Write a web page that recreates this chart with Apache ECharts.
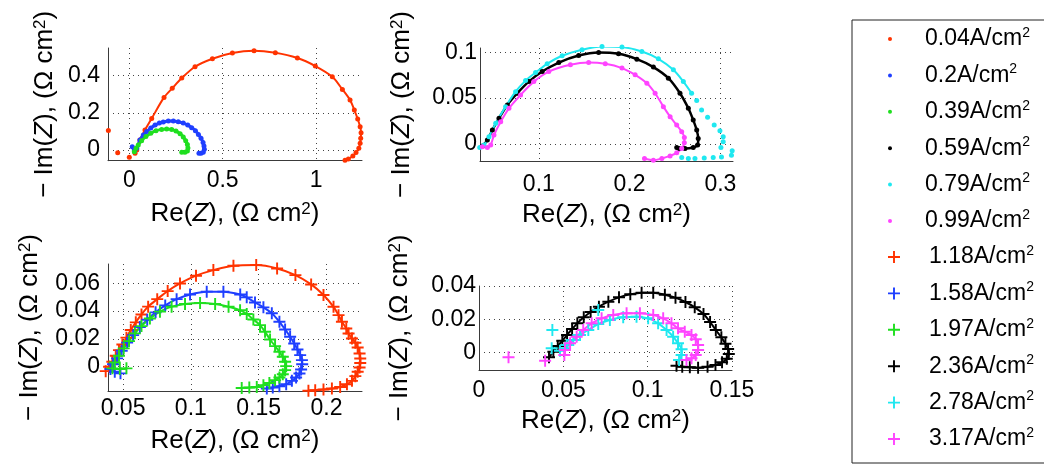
<!DOCTYPE html>
<html><head><meta charset="utf-8">
<script src="https://cdn.jsdelivr.net/npm/echarts@6/dist/echarts.min.js"></script>
<style>html,body{margin:0;padding:0;background:#fff}#c{width:1044px;height:464px}</style>
</head><body><div id="c"></div>
<script>
// ---- labels ----
const currentLabels = ['0.04A/cm²','0.2A/cm²','0.39A/cm²','0.59A/cm²','0.79A/cm²','0.99A/cm²',
  '1.18A/cm²','1.58A/cm²','1.97A/cm²','2.36A/cm²','2.78A/cm²','3.17A/cm²'];
const seriesColors = ['#ff3300','#1f3fff','#1fdf1f','#000000','#1fe8f0','#ff44ff',
  '#ff3300','#1f3fff','#1fdf1f','#000000','#1fe8f0','#ff44ff'];
const subplotOf = [0,0,0,1,1,1,2,2,2,3,3,3];

// ---- axis ranges and tick steps ----
const xRanges = [[-0.114, 1.246],[0.0352, 0.3139],[0.0389, 0.2262],[0, 0.15]];
const yRanges = [[-0.0576, 0.549],[-0.0188, 0.1049],[-0.0175, 0.0739],[-0.0104, 0.04]];
const xSteps = [0.5, 0.1, 0.05, 0.05];
const ySteps = [0.2, 0.05, 0.02, 0.02];

// ---- data: [Re(Z), -Im(Z)] ----
const s004 = [[0.040,0.000],[0.057,0.054],[0.084,0.108],[0.120,0.170],[0.186,0.283],[0.230,0.332],[0.281,0.387],[0.352,0.448],[0.445,0.491],[0.552,0.522],[0.668,0.534],[0.782,0.523],[0.900,0.495],[0.996,0.452],[1.087,0.394],[1.141,0.326],[1.182,0.269],[1.205,0.215],[1.223,0.167],[1.236,0.125],[1.241,0.093],[1.239,0.063],[1.236,0.036],[1.229,0.009],[1.214,-0.014],[1.197,-0.032],[1.173,-0.048],[1.155,-0.055]];
const s004Extra = [[-0.112,0.105],[-0.062,-0.015],[0.000,-0.039],[0.031,-0.018]];
const s02 = [[0.016,0.018],[0.027,-0.004],[0.040,0.009],[0.057,0.054],[0.075,0.081],[0.093,0.099],[0.115,0.118],[0.138,0.134],[0.161,0.145],[0.182,0.151],[0.209,0.156],[0.236,0.156],[0.262,0.152],[0.289,0.145],[0.313,0.134],[0.334,0.120],[0.354,0.104],[0.370,0.084],[0.384,0.063],[0.395,0.041],[0.400,0.022],[0.402,0.004],[0.396,-0.012],[0.384,-0.018],[0.373,-0.018]];
const s039 = [[0.027,-0.009],[0.036,0.009],[0.048,0.027],[0.066,0.050],[0.089,0.072],[0.115,0.090],[0.143,0.104],[0.173,0.111],[0.200,0.113],[0.227,0.111],[0.250,0.102],[0.272,0.088],[0.289,0.070],[0.302,0.050],[0.311,0.029],[0.314,0.011],[0.311,-0.005],[0.298,-0.012],[0.281,-0.012]];
const s059 = [[0.0379,-0.0025],[0.0433,0.0041],[0.0488,0.0151],[0.0561,0.0279],[0.0653,0.0425],[0.0763,0.0554],[0.0890,0.0681],[0.1037,0.0791],[0.1220,0.0890],[0.1439,0.0967],[0.1659,0.1000],[0.1878,0.0986],[0.2080,0.0927],[0.2262,0.0840],[0.2427,0.0719],[0.2555,0.0554],[0.2647,0.0389],[0.2701,0.0260],[0.2739,0.0151],[0.2756,0.0059],[0.2749,-0.0014],[0.2701,-0.0040],[0.2610,-0.0051],[0.2544,-0.0051],[0.2519,-0.0040]];
const s079 = [[0.0349,-0.0040],[0.0396,-0.0014],[0.0451,0.0077],[0.0525,0.0224],[0.0634,0.0407],[0.0744,0.0571],[0.0854,0.0692],[0.0964,0.0780],[0.1092,0.0876],[0.1257,0.0964],[0.1476,0.1030],[0.1696,0.1066],[0.1916,0.1059],[0.2135,0.1011],[0.2317,0.0931],[0.2482,0.0810],[0.2592,0.0681],[0.2683,0.0554]];
const s079Tail = [[0.2739,0.0473],[0.2793,0.0370],[0.2859,0.0290],[0.2932,0.0205],[0.2995,0.0143],[0.3031,0.0077],[0.3031,0.0022],[0.3006,-0.0040],[0.3130,-0.0077],[0.3122,-0.0124],[0.3012,-0.0143],[0.2921,-0.0149],[0.2822,-0.0154],[0.2720,-0.0160],[0.2647,-0.0160],[0.2574,-0.0149]];
const s099 = [[0.0378,-0.0033],[0.0433,-0.0040],[0.0470,-0.0014],[0.0506,0.0096],[0.0580,0.0242],[0.0671,0.0389],[0.0799,0.0535],[0.0945,0.0681],[0.1110,0.0791],[0.1348,0.0865],[0.1549,0.0890],[0.1732,0.0876],[0.1916,0.0829],[0.2061,0.0755],[0.2190,0.0663],[0.2281,0.0554],[0.2372,0.0407],[0.2446,0.0297],[0.2519,0.0205],[0.2574,0.0132],[0.2603,0.0070],[0.2603,0.0011],[0.2574,-0.0051],[0.2519,-0.0099],[0.2446,-0.0132],[0.2355,-0.0160],[0.2262,-0.0179],[0.2164,-0.0160]];
const s118 = [[0.0372,-0.0032],[0.0397,0.0000],[0.0421,0.0036],[0.0446,0.0079],[0.0470,0.0119],[0.0495,0.0160],[0.0525,0.0209],[0.0557,0.0264],[0.0594,0.0319],[0.0636,0.0376],[0.0685,0.0432],[0.0752,0.0486],[0.0829,0.0544],[0.0920,0.0599],[0.1038,0.0655],[0.1166,0.0695],[0.1314,0.0727],[0.1482,0.0731],[0.1636,0.0707],[0.1771,0.0659],[0.1887,0.0592],[0.1978,0.0516],[0.2052,0.0431],[0.2089,0.0371],[0.2114,0.0323],[0.2146,0.0275],[0.2163,0.0239],[0.2188,0.0203],[0.2213,0.0172],[0.2230,0.0138],[0.2244,0.0095],[0.2249,0.0059],[0.2249,0.0027],[0.2244,-0.0006],[0.2230,-0.0037],[0.2213,-0.0068],[0.2188,-0.0102],[0.2151,-0.0126],[0.2101,-0.0146],[0.2040,-0.0157],[0.1978,-0.0164],[0.1917,-0.0169],[0.1867,-0.0173]];
const s158 = [[0.0481,-0.0048],[0.0439,-0.0036],[0.0407,-0.0017],[0.0426,0.0017],[0.0456,0.0060],[0.0490,0.0115],[0.0530,0.0173],[0.0574,0.0227],[0.0624,0.0285],[0.0678,0.0338],[0.0740,0.0391],[0.0811,0.0441],[0.0895,0.0486],[0.0994,0.0520],[0.1117,0.0540],[0.1240,0.0540],[0.1364,0.0520],[0.1412,0.0499],[0.1473,0.0462],[0.1535,0.0427],[0.1597,0.0384],[0.1653,0.0323],[0.1695,0.0268],[0.1732,0.0215],[0.1762,0.0167],[0.1786,0.0124],[0.1806,0.0083],[0.1819,0.0047],[0.1821,0.0018],[0.1813,-0.0020],[0.1801,-0.0049],[0.1776,-0.0078],[0.1745,-0.0102],[0.1703,-0.0126],[0.1653,-0.0141],[0.1604,-0.0150],[0.1560,-0.0157]];
const s197 = [[0.0525,-0.0012],[0.0476,-0.0017],[0.0422,-0.0012],[0.0439,0.0031],[0.0470,0.0079],[0.0505,0.0132],[0.0544,0.0184],[0.0587,0.0240],[0.0636,0.0292],[0.0698,0.0347],[0.0772,0.0396],[0.0858,0.0432],[0.0957,0.0451],[0.1068,0.0458],[0.1179,0.0451],[0.1278,0.0432],[0.1363,0.0407],[0.1412,0.0379],[0.1461,0.0340],[0.1510,0.0299],[0.1547,0.0251],[0.1584,0.0196],[0.1621,0.0148],[0.1653,0.0107],[0.1678,0.0071],[0.1695,0.0035],[0.1703,0.0004],[0.1695,-0.0025],[0.1678,-0.0054],[0.1653,-0.0078],[0.1621,-0.0097],[0.1579,-0.0117],[0.1535,-0.0133],[0.1486,-0.0146],[0.1431,-0.0150],[0.1375,-0.0153]];
const s236 = [[0.0415,-0.0028],[0.0441,0.0006],[0.0467,0.0040],[0.0494,0.0072],[0.0522,0.0106],[0.0552,0.0142],[0.0583,0.0176],[0.0621,0.0212],[0.0662,0.0244],[0.0711,0.0276],[0.0767,0.0306],[0.0830,0.0332],[0.0897,0.0350],[0.0964,0.0360],[0.1033,0.0360],[0.1102,0.0348],[0.1165,0.0330],[0.1224,0.0304],[0.1279,0.0272],[0.1331,0.0232],[0.1370,0.0184],[0.1404,0.0136],[0.1437,0.0092],[0.1461,0.0054],[0.1477,0.0022],[0.1481,-0.0008],[0.1469,-0.0036],[0.1441,-0.0058],[0.1402,-0.0074],[0.1355,-0.0084],[0.1299,-0.0090],[0.1250,-0.0088],[0.1205,-0.0084],[0.1171,-0.0078]];
const s278 = [[0.0510,0.0026],[0.0520,0.0046],[0.0559,0.0076],[0.0599,0.0106],[0.0648,0.0136],[0.0707,0.0172],[0.0776,0.0196],[0.0855,0.0212],[0.0934,0.0216],[0.1003,0.0206],[0.1062,0.0176],[0.1112,0.0136],[0.1151,0.0096],[0.1180,0.0056],[0.1201,0.0020],[0.1201,-0.0014],[0.1186,-0.0044]];
const s278Extra = [[0.0435,0.0136],[0.0431,0.0026],[0.0480,0.0012],[0.0707,0.0256]];
const s317 = [[0.0506,-0.0014],[0.0510,0.0016],[0.0540,0.0056],[0.0579,0.0096],[0.0618,0.0136],[0.0668,0.0176],[0.0727,0.0206],[0.0796,0.0226],[0.0875,0.0236],[0.0954,0.0236],[0.1033,0.0226],[0.1092,0.0206],[0.1141,0.0176],[0.1180,0.0146],[0.1220,0.0126],[0.1260,0.0106],[0.1285,0.0080],[0.1299,0.0046],[0.1299,0.0016],[0.1285,-0.0014],[0.1260,-0.0034],[0.1230,-0.0044]];
const s317Extra = [[0.0175,-0.0028],[0.0392,-0.0048]];

const lineData  = [s004, s02, s039, s059, s079, s099, s118, s158, s197, s236, s278, s317];
const extraData = [s004Extra, [], [], [], s079Tail, [], [], [], [], [], s278Extra, s317Extra];

// ---- styling ----
const FONT = 'Liberation Sans, Arial, Helvetica, sans-serif';
const PLUS = 'path://M0,4.2H10V5.8H0Z M4.2,0H5.8V10H4.2Z';
const lineWidths = [2,3,3,2.5,2,2,2,2,2,2,2,2];

const grids = [
  {left:108, top:48, width:254, height:112.7},
  {left:480, top:48, width:253, height:113},
  {left:108, top:264, width:254, height:127},
  {left:479, top:286, width:253, height:84}
];
const yLabelMargin = [8, 3, 8, 3];
const xLabelMargin = [8, 12, 6, 9];
const xNameGap = [40, 41, 37, 38];
const yNameGap = [50, 65, 65, 66];

const nameRich = {
  a:{fontSize:26, fontFamily:FONT, color:'#000'},
  i:{fontSize:26, fontFamily:FONT, fontStyle:'italic', color:'#000'},
  s:{fontSize:17, fontFamily:FONT, color:'#000', verticalAlign:'top', lineHeight:15}
};
const xName = '{a|Re(}{i|Z}{a|), (Ω cm}{s|2}{a|)}';
const yName = '{a|− Im(}{i|Z}{a|), (Ω cm}{s|2}{a|)}';

function makeAxis(g, isX) {
  const r = isX ? xRanges[g] : yRanges[g];
  const st = isX ? xSteps[g] : ySteps[g];
  const minNice = Math.abs(r[0] / st - Math.round(r[0] / st)) < 1e-6;
  const maxNice = Math.abs(r[1] / st - Math.round(r[1] / st)) < 1e-6;
  return {
    type:'value', gridIndex:g, min:r[0], max:r[1], minInterval:st, maxInterval:st,
    position: isX ? 'bottom' : 'left',
    axisLine:{show:true, onZero:false, lineStyle:{color:'#3a3a3a', width:1}},
    axisTick:{show:false},
    axisLabel:{showMinLabel:minNice, showMaxLabel:maxNice, fontSize:23, fontFamily:FONT, color:'#000',
      margin: isX ? xLabelMargin[g] : yLabelMargin[g]},
    splitLine:{show:true, showMinLine:false, showMaxLine:maxNice,
      lineStyle:{type:[1,4], color:'#444', width:1}},
    name: isX ? xName : yName,
    nameLocation:'middle',
    nameRotate: isX ? 0 : 90,
    nameGap: isX ? xNameGap[g] : yNameGap[g],
    nameMoveOverlap:false,
    nameTextStyle:{fontSize:26, fontFamily:FONT, color:'#000', rich:nameRich}
  };
}

const series = [];
for (let i = 0; i < 12; i++) {
  const g = subplotOf[i];
  const isPlus = i >= 6;
  series.push({
    type:'line', name:'line' + i, xAxisIndex:g, yAxisIndex:g, data:lineData[i],
    showSymbol:false, symbol:'none', silent:true, z:2, animation:false, smooth:0.3,
    lineStyle:{color:seriesColors[i], width:lineWidths[i]}
  });
  series.push({
    type:'scatter', name:currentLabels[i], xAxisIndex:g, yAxisIndex:g,
    data:lineData[i].concat(extraData[i]), clip:false, z:3, animation:false,
    symbol: isPlus ? PLUS : 'circle', symbolSize: isPlus ? 12 : 5,
    itemStyle:{color:seriesColors[i], opacity:1}
  });
}

const legendText = {fontSize:23, fontFamily:FONT, color:'#000', lineHeight:26,
  rich:{s:{fontSize:14, fontFamily:FONT, color:'#000', verticalAlign:'top', lineHeight:14}}};
const legendFmt = n => n.replace('²', '{s|2}');

const option = {
  backgroundColor:'#fff',
  animation:false,
  grid: grids,
  xAxis: [0,1,2,3].map(g => makeAxis(g, true)),
  yAxis: [0,1,2,3].map(g => makeAxis(g, false)),
  legend: [
    {data: currentLabels.slice(0,6).map(n => ({name:n, icon:'circle'})), orient:'vertical',
     left:888, top:26, itemWidth:60, itemHeight:4, itemGap:10.4, padding:0, selectedMode:false,
     textStyle:legendText, formatter:legendFmt},
    {data: currentLabels.slice(6).map(n => ({name:n, icon:PLUS})), orient:'vertical',
     left:888, top:244, itemWidth:60, itemHeight:12, itemGap:10.4, padding:0, selectedMode:false,
     textStyle:legendText, formatter:legendFmt}
  ],
  graphic: [{type:'rect', left:849.5, top:17.5, shape:{x:0, y:0, width:194, height:443},
    style:{fill:'none', stroke:'#222', lineWidth:1}, z:-1, silent:true}],
  series: series
};
const chart = echarts.init(document.getElementById('c'), null, {renderer:'canvas'});
chart.setOption(option);
</script></body></html>
